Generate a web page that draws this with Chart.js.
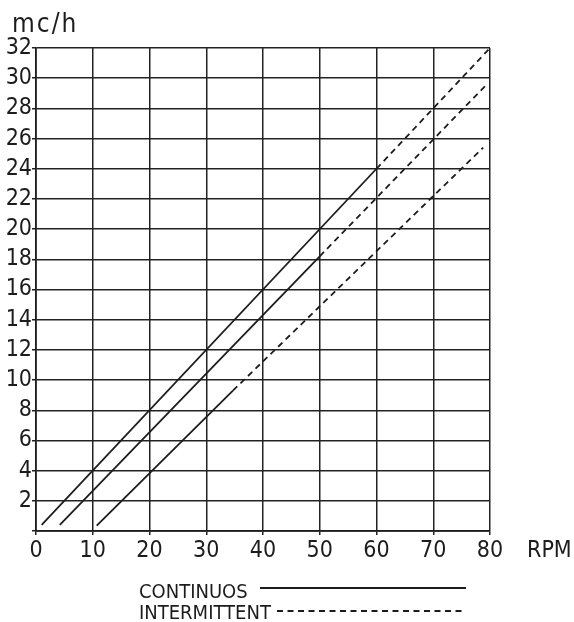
<!DOCTYPE html>
<html>
<head>
<meta charset="utf-8">
<script src="https://cdn.jsdelivr.net/npm/chart.js@4"></script>
<style>
  html, body { margin: 0; padding: 0; background: #fff; }
  #wrap { width: 574px; height: 622px; }
</style>
</head>
<body>
<div id="wrap"><canvas id="grafico"></canvas></div>
<script>
// datos (RPM vs mc/h)
const linea1Rpm = [1, 60, 80];
const linea1Mch = [0.4, 24, 32];
const linea2Rpm = [4.2, 50, 79.2];
const linea2Mch = [0.4, 18.2, 29.5];
const linea3Rpm = [10.7, 34.7, 78.8];
const linea3Mch = [0.35, 9.3, 25.4];
// indice donde empieza el tramo intermitente (linea discontinua)
const inicioIntermitente = [1, 1, 1];

const leyendaTextos = ['CONTINUOS', 'INTERMITTENT'];
const tituloY = 'mc/h';
const tituloX = 'RPM';

const FUENTE = "'Liberation Sans Narrow', 'DejaVu Sans Condensed', sans-serif";
const NEGRO = '#1c1c1c';
const GUION = [6, 4.5];

function puntos(xs, ys) {
    return xs.map(function(x, i) { return { x: x, y: ys[i] }; });
}

function crearLinea(xs, ys, corte) {
    return {
        data: puntos(xs, ys),
        borderColor: NEGRO,
        borderWidth: 1.8,
        pointRadius: 0,
        fill: false,
        tension: 0,
        segment: {
            borderDash: function(ctx) {
                return ctx.p0DataIndex >= corte ? GUION : undefined;
            }
        }
    };
}

// textos extra: titulo eje y, RPM y leyenda
const textosExtra = {
    id: 'textosExtra',
    afterDraw: function(chart) {
        var ctx = chart.ctx;
        ctx.save();
        ctx.fillStyle = NEGRO;
        ctx.textBaseline = 'alphabetic';
        ctx.font = '26px ' + FUENTE;
        ctx.letterSpacing = '2px';
        ctx.fillText(tituloY, 12, 32);
        ctx.letterSpacing = '0px';
        ctx.font = '23px ' + FUENTE;
        ctx.fillText(tituloX, 527, 557);

        // leyenda
        ctx.font = '20px ' + FUENTE;
        ctx.fillText(leyendaTextos[0], 139, 598);
        ctx.fillText(leyendaTextos[1], 139, 619);
        ctx.strokeStyle = NEGRO;
        ctx.lineWidth = 1.8;
        ctx.beginPath();
        ctx.moveTo(260, 588);
        ctx.lineTo(466, 588);
        ctx.stroke();
        ctx.setLineDash(GUION);
        ctx.beginPath();
        ctx.moveTo(277, 611);
        ctx.lineTo(466, 611);
        ctx.stroke();
        ctx.restore();
    }
};

var ctx = document.getElementById('grafico').getContext('2d');
var grafico = new Chart(ctx, {
    type: 'line',
    data: {
        datasets: [
            crearLinea(linea1Rpm, linea1Mch, inicioIntermitente[0]),
            crearLinea(linea2Rpm, linea2Mch, inicioIntermitente[1]),
            crearLinea(linea3Rpm, linea3Mch, inicioIntermitente[2])
        ]
    },
    options: {
        responsive: true,
        maintainAspectRatio: false,
        animation: false,
        layout: { padding: { top: 48, right: 84, left: 0, bottom: 0 } },
        plugins: {
            legend: { display: false },
            tooltip: { enabled: false }
        },
        scales: {
            x: {
                type: 'linear',
                min: 0,
                max: 80,
                ticks: {
                    stepSize: 10,
                    autoSkip: false,
                    maxRotation: 0,
                    color: NEGRO,
                    padding: 2,
                    font: { family: FUENTE, size: 23 }
                },
                grid: { color: '#222', lineWidth: 1.5, tickLength: 4 },
                border: { color: NEGRO, width: 1.7 },
                afterFit: function(scale) { scale.height = 91; }
            },
            y: {
                min: 0,
                max: 32,
                ticks: {
                    stepSize: 2,
                    autoSkip: false,
                    color: NEGRO,
                    padding: 0,
                    font: { family: FUENTE, size: 23 },
                    callback: function(v) { return v === 0 ? '' : v; }
                },
                grid: { color: '#222', lineWidth: 1.5, tickLength: 4 },
                border: { color: NEGRO, width: 1.7 },
                afterFit: function(scale) { scale.width = 36; }
            }
        }
    },
    plugins: [textosExtra]
});
</script>
</body>
</html>
